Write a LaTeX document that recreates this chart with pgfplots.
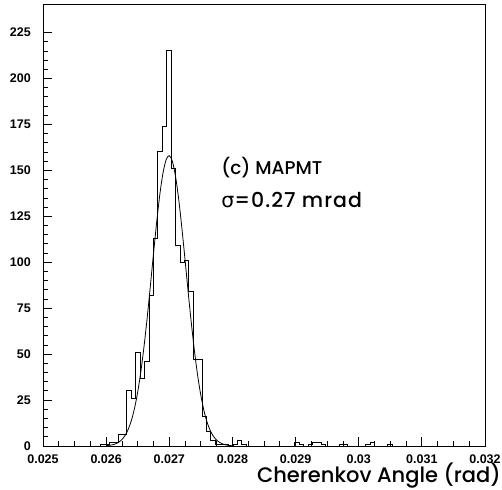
\documentclass[border=0pt]{standalone}
\usepackage{fontspec}
\setmainfont{Liberation Sans}
\newfontfamily\tickfont{Liberation Sans Bold}
\newfontfamily\labelfont{Poppins Medium}
\newfontfamily\greekfont{DejaVu Sans}
\usepackage{pgfplots}
\pgfplotsset{compat=1.18}

\begin{document}
\begin{tikzpicture}[x=1pt,y=1pt]
\begin{axis}[
  at={(0,0)}, anchor=south west,
  scale only axis, width=442pt, height=441pt,
  xmin=0.025, xmax=0.032, ymin=0, ymax=240,
  scaled x ticks=false,
  axis line style={line width=1pt},
  xtick={0.025,0.026,0.027,0.028,0.029,0.030,0.031,0.032},
  xticklabels={0.025,0.026,0.027,0.028,0.029,0.03,0.031,0.032},
  ytick={0,25,...,225},
  yticklabels={0,25,50,75,100,125,150,175,200,225},
  minor x tick num=3, minor y tick num=4,
  xtick pos=lower, ytick pos=left,
  tick align=inside,
  major tick length=9pt, minor tick length=5pt,
  tick style={black, line width=0.8pt},
  tick label style={font=\tickfont\fontsize{12.5}{13}\selectfont, inner sep=0pt},
  xticklabel style={anchor=north, yshift=-9pt},
  yticklabel style={anchor=east, xshift=-12pt},
  xlabel={\labelfont Cherenkov Angle (rad)},
  xlabel style={at={(rel axis cs:1,0)}, anchor=base east, inner sep=0pt,
    xshift=16pt, yshift=-36pt, font=\fontsize{21}{24}\selectfont},
]
% histogram, bin width 0.00007
\addplot[const plot, black, line width=1pt] coordinates {
(0.02500,0) (0.02591,1) (0.02605,2) (0.02619,6) (0.02633,30) (0.02640,26)
(0.02647,51) (0.02654,37) (0.02661,46) (0.02668,82) (0.02675,113) (0.02682,160)
(0.02689,174) (0.02696,215) (0.02703,151) (0.02710,109) (0.02717,100) (0.02724,101)
(0.02731,84) (0.02738,47) (0.02752,16) (0.02759,8) (0.02766,3) (0.02773,1)
(0.02794,0) (0.02801,1) (0.02808,3) (0.02815,1) (0.02822,0) (0.02899,2)
(0.02906,1) (0.02913,0) (0.02920,1) (0.02927,2) (0.02941,1) (0.02948,0)
(0.02969,1) (0.02983,0) (0.03011,1) (0.03018,2) (0.03025,0) (0.03046,1)
(0.03053,0) (0.03200,0)
};
% gaussian fit
\addplot[smooth, black, line width=0.8pt] coordinates {
(0.02600,0.18) (0.02605,0.35) (0.02610,0.65) (0.02615,1.18) (0.02620,2.07)
(0.02625,3.51) (0.02630,5.75) (0.02635,9.11) (0.02640,13.94) (0.02645,20.6)
(0.02650,29.4) (0.02655,40.6) (0.02660,54.2) (0.02665,69.8) (0.02670,87.0)
(0.02675,104.7) (0.02680,121.7) (0.02685,136.8) (0.02690,148.5) (0.02695,155.8)
(0.02700,158.0) (0.02705,154.8) (0.02710,146.5) (0.02715,134.0) (0.02720,118.4)
(0.02725,101.2) (0.02730,83.5) (0.02735,66.6) (0.02740,51.3) (0.02745,38.2)
(0.02750,27.5) (0.02755,19.1) (0.02760,12.8) (0.02765,8.33) (0.02770,5.23)
(0.02775,3.17) (0.02780,1.86) (0.02785,1.05) (0.02790,0.57) (0.02795,0.30)
(0.02800,0.15)
};
\node[anchor=base west, inner sep=0pt, font=\labelfont\fontsize{18.5}{22}\selectfont]
  at (axis cs:0.02782,147.5) {(c) MAPMT};
\node[anchor=base west, inner sep=0pt, font=\labelfont\fontsize{20.5}{22}\selectfont\addfontfeature{LetterSpace=5}]
  at (axis cs:0.02782,130) {{\greekfont σ}=0.27 mrad};
\end{axis}
\pgfresetboundingbox
\path (-43pt,-43pt) rectangle (459pt,446pt);
\end{tikzpicture}
\end{document}
